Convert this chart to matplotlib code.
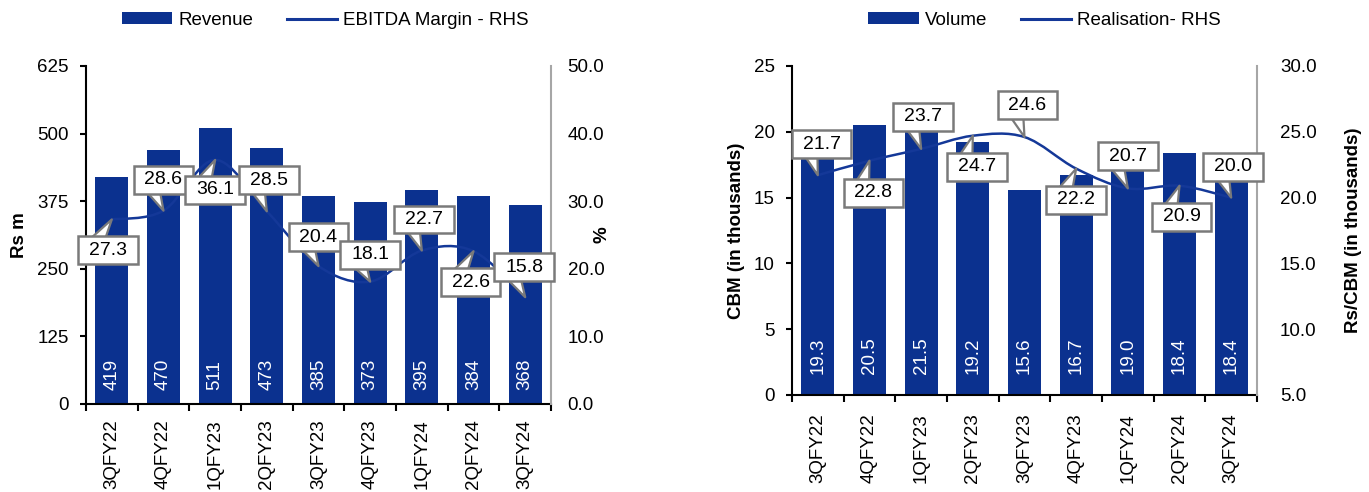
import matplotlib
matplotlib.use("Agg")
import matplotlib.pyplot as plt
from matplotlib.path import Path
from matplotlib.patches import PathPatch
from matplotlib.lines import Line2D
from matplotlib.ticker import FormatStrFormatter, FixedLocator

plt.rcParams['font.family'] = ['Liberation Sans', 'DejaVu Sans']

quarters = ["3QFY22", "4QFY22", "1QFY23", "2QFY23", "3QFY23", "4QFY23", "1QFY24", "2QFY24", "3QFY24"]
revenue = [419, 470, 511, 473, 385, 373, 395, 384, 368]
ebitda_margin = [27.3, 28.6, 36.1, 28.5, 20.4, 18.1, 22.7, 22.6, 15.8]
volume = [19.3, 20.5, 21.5, 19.2, 15.6, 16.7, 19.0, 18.4, 18.4]
realisation = [21.7, 22.8, 23.7, 24.7, 24.6, 22.2, 20.7, 20.9, 20.0]

# layout: callout box offsets from the pointed value, in pixels (dx, dy)
left_offsets = [(-4, -31), (0, 31), (0, -30), (2, 31), (0, 29), (0, 27), (2, 31), (-3, -31), (-1, 30)]
right_offsets = [(4, 31), (4, -32), (2, 32), (4, -31), (3, 32), (0, -31), (0, 32), (2, -31), (2, 31)]

BAR = "#0b318f"
LINE = "#143898"
EDGE = "#7a7a7a"
FS = 13.5
CFS = 14

fig = plt.figure(figsize=(13.69, 4.92), dpi=100)


def smooth_path(xs, ys):
    pts = list(zip(xs, ys))
    n = len(pts)
    verts = [pts[0]]
    codes = [Path.MOVETO]
    for i in range(n - 1):
        p0 = pts[i - 1] if i > 0 else pts[i]
        p1 = pts[i]
        p2 = pts[i + 1]
        p3 = pts[i + 2] if i + 2 < n else pts[i + 1]
        c1 = (p1[0] + (p2[0] - p0[0]) / 6.0, p1[1] + (p2[1] - p0[1]) / 6.0)
        c2 = (p2[0] - (p3[0] - p1[0]) / 6.0, p2[1] - (p3[1] - p1[1]) / 6.0)
        verts += [c1, c2, p2]
        codes += [Path.CURVE4] * 3
    return Path(verts, codes)


def callout_box(x0, y0, width, height, mutation_size):
    px = 0.55 * mutation_size
    py = 0.28 * mutation_size
    return Path([(x0 - px, y0 - py), (x0 + width + px, y0 - py),
                 (x0 + width + px, y0 + height + py), (x0 - px, y0 + height + py),
                 (x0 - px, y0 - py)], closed=True)


def panel(rect, bars, line, ylim, yticks, rlim, rticks, ylabel, rlabel, offsets,
          lab_coords, rlab_coords, legend_labels, legend_x, bar_fmt, bar_off, xlab_pad, rpad):
    ax = fig.add_axes(rect)
    x = list(range(len(quarters)))
    bc = ax.bar(x, bars, width=0.64, color=BAR, zorder=2)
    ax.set_xlim(-0.5, len(quarters) - 0.5)
    ax.set_ylim(*ylim)
    ax.set_yticks(yticks)
    ax.tick_params(axis='y', direction='out', length=4, width=1.5, labelsize=FS, pad=8.5)
    ax.set_xticks(x)
    ax.set_xticklabels(quarters, rotation=90, fontsize=FS)
    ax.xaxis.set_minor_locator(FixedLocator([i - 0.5 for i in range(len(quarters) + 1)]))
    ax.tick_params(axis='x', which='major', length=0, pad=xlab_pad)
    ax.tick_params(axis='x', which='minor', length=5, width=1.5, direction='out')
    for s in ['top', 'right']:
        ax.spines[s].set_visible(False)
    ax.spines['left'].set_linewidth(1.5)
    ax.spines['bottom'].set_linewidth(1.5)
    ax.set_ylabel(ylabel, fontsize=FS, fontweight='bold')
    ax.yaxis.set_label_coords(*lab_coords)
    for xi, v in zip(x, bars):
        ax.annotate(bar_fmt.format(v), (xi, 0), xytext=(0, bar_off), textcoords='offset pixels',
                    rotation=90, ha='center', va='bottom', color='white', fontsize=FS)

    ax2 = ax.twinx()
    ax2.set_ylim(*rlim)
    ax2.set_yticks(rticks)
    ax2.yaxis.set_major_formatter(FormatStrFormatter('%.1f'))
    ax2.tick_params(axis='y', length=0, labelsize=FS, pad=rpad)
    for s in ['top', 'left', 'bottom']:
        ax2.spines[s].set_visible(False)
    ax2.spines['right'].set_color('#a6a6a6')
    ax2.spines['right'].set_linewidth(1.5)
    ax2.set_ylabel(rlabel, fontsize=FS, fontweight='bold')
    ax2.yaxis.set_label_coords(*rlab_coords)
    ax2.add_patch(PathPatch(smooth_path(x, line), fill=False, edgecolor=LINE, lw=1.8, zorder=2))
    for xi, v, (dx, dy) in zip(x, line, offsets):
        rel = (0.2, 0.05) if dy > 0 else (0.2, 0.95)
        ax2.annotate("{:.1f}".format(v), (xi, v), xytext=(dx, dy), textcoords='offset pixels',
                     ha='center', va='center', fontsize=CFS, color='black', zorder=5,
                     bbox=dict(boxstyle=callout_box, fc='white', ec=EDGE, lw=1.8),
                     arrowprops=dict(arrowstyle='wedge,tail_width=0.75,shrink_factor=0.5',
                                     fc='white', ec=EDGE, lw=1.6, patchA=None,
                                     shrinkA=0, shrinkB=0, relpos=rel),
                     annotation_clip=False)

    handles = [bc, Line2D([0], [0], color=LINE, lw=2.2)]
    fig.legend(handles, legend_labels, loc='center', bbox_to_anchor=(legend_x, 0.959),
               ncol=2, frameon=False, fontsize=FS, handlelength=2.7, handleheight=0.55,
               handletextpad=0.3, columnspacing=1.8)
    return ax, ax2


panel([0.0628, 0.1789, 0.3397, 0.687], revenue, ebitda_margin, (0, 625), [0, 125, 250, 375, 500, 625],
      (0, 50), [0, 10, 20, 30, 40, 50], "Rs m", "%", left_offsets, (-0.124, 0.5), (1.092, 0.5),
      ["Revenue", "EBITDA Margin - RHS"], 0.2375, "{:d}", 14, 11, 12)

panel([0.5785, 0.1972, 0.3397, 0.6687], volume, realisation, (0, 25), [0, 5, 10, 15, 20, 25],
      (5, 30), [5, 10, 15, 20, 25, 30], "CBM (in thousands)", "Rs/CBM (in thousands)", right_offsets,
      (-0.100, 0.5), (1.189, 0.5), ["Volume", "Realisation- RHS"], 0.763, "{:.1f}", 21, 13, 16.5)

fig.savefig("out.png", dpi=100)
